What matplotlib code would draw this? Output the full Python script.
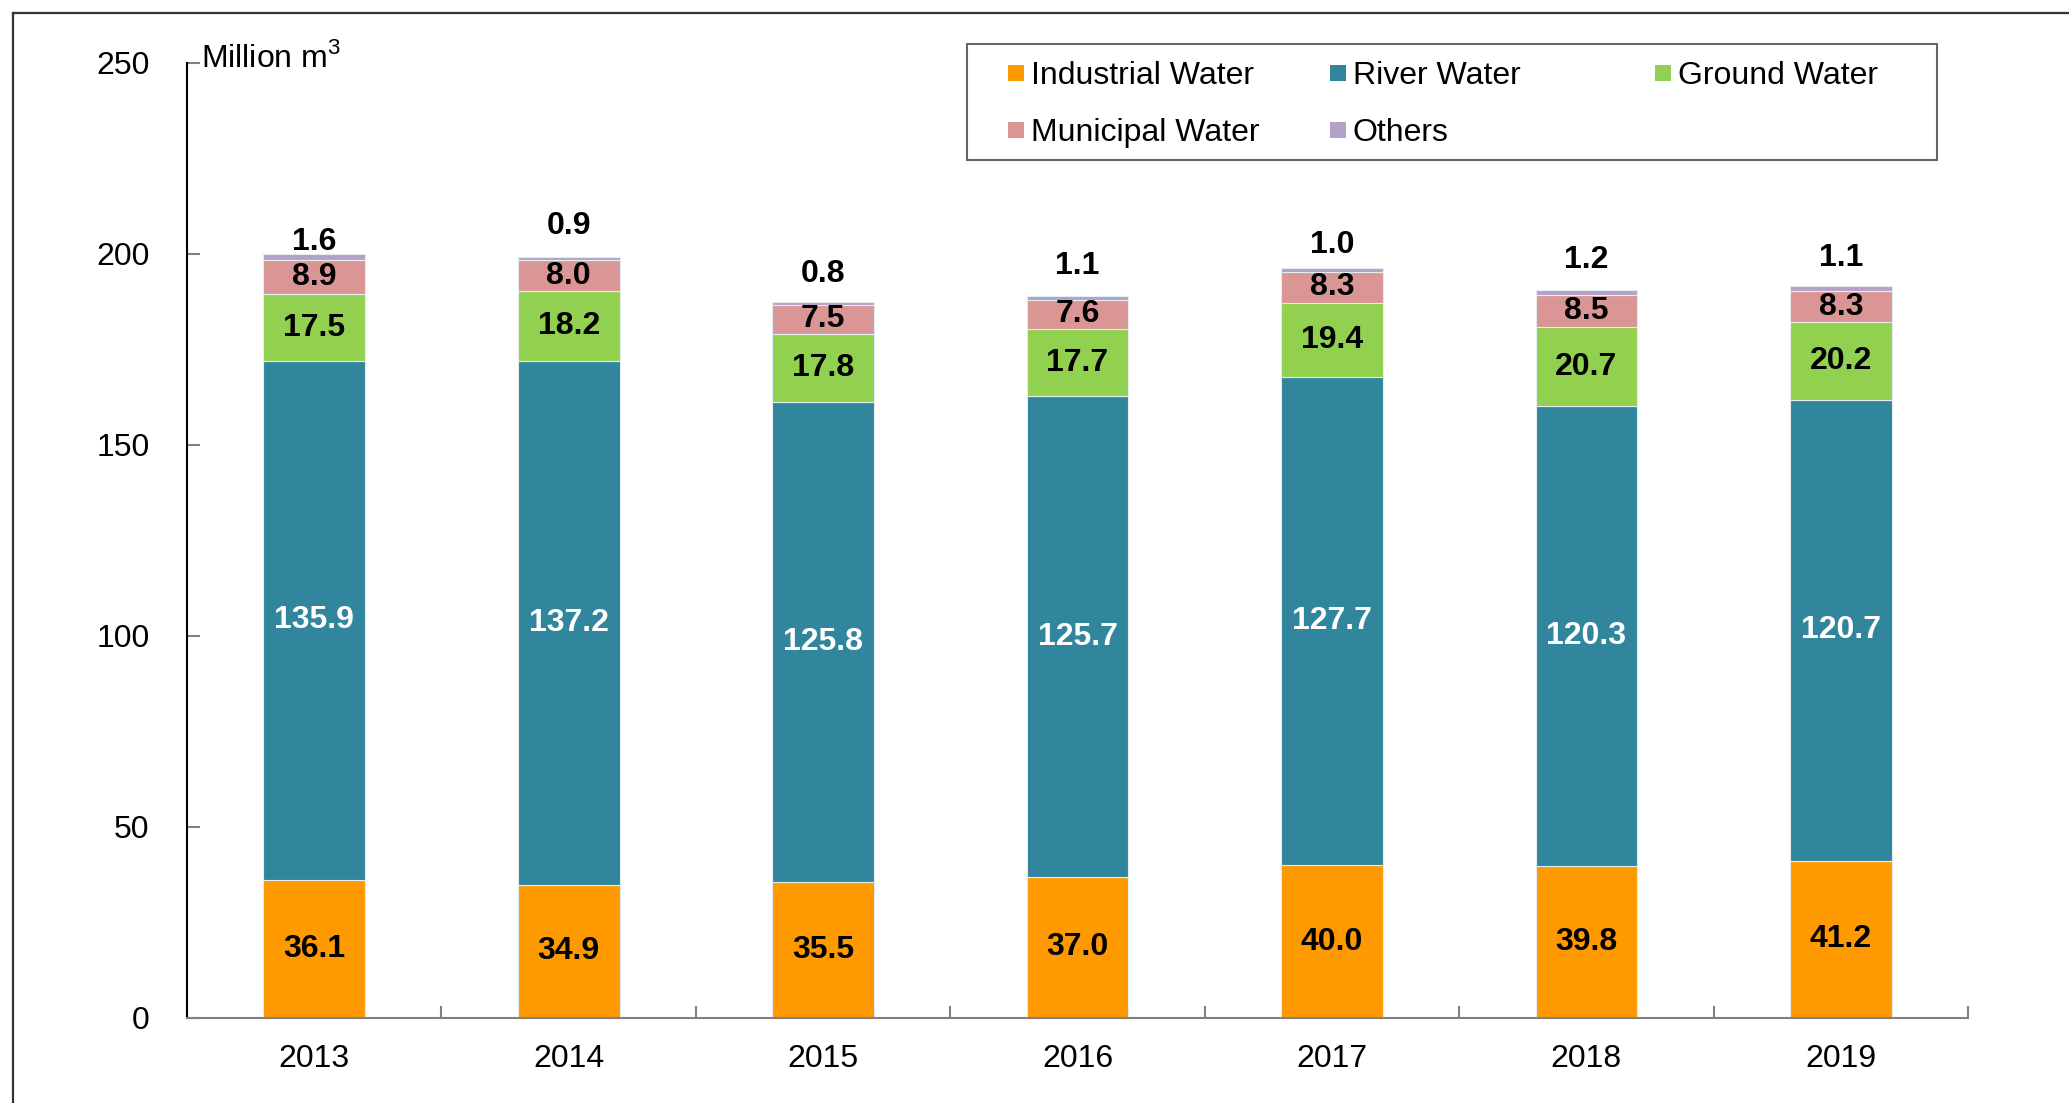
import numpy as np
import matplotlib
matplotlib.use("Agg")
import matplotlib.pyplot as plt
from matplotlib.lines import Line2D
from matplotlib.patches import Rectangle

plt.rcParams['font.family'] = ['Liberation Sans', 'DejaVu Sans']
plt.rcParams['mathtext.fontset'] = 'custom'
plt.rcParams['mathtext.rm'] = 'Liberation Sans'

# data (million m3)
years = ['2013', '2014', '2015', '2016', '2017', '2018', '2019']
industrial = [36.1, 34.9, 35.5, 37.0, 40.0, 39.8, 41.2]
river = [135.9, 137.2, 125.8, 125.7, 127.7, 120.3, 120.7]
ground = [17.5, 18.2, 17.8, 17.7, 19.4, 20.7, 20.2]
municipal = [8.9, 8.0, 7.5, 7.6, 8.3, 8.5, 8.3]
others = [1.6, 0.9, 0.8, 1.1, 1.0, 1.2, 1.1]

series_names = ['Industrial Water', 'River Water', 'Ground Water', 'Municipal Water', 'Others']
series_colors = ['#FF9900', '#31859C', '#92D050', '#DA9694', '#B3A2C7']
label_colors = ['black', 'white', 'black', 'black', None]

# distance (points) from bar top to centre of the "Others" label
others_label_pad = [11.5, 25, 23, 24, 19, 24, 23]

W, H = 2069, 1103
fig = plt.figure(figsize=(W / 100, H / 100), dpi=100)
ax = fig.add_axes([0.0904, 0.0771, 0.8608, 0.8658])

x = np.arange(len(years))
width = 0.4
bottom = np.zeros(len(years))
for vals, name, col, lc in zip([industrial, river, ground, municipal, others],
                               series_names, series_colors, label_colors):
    vals = np.array(vals)
    ax.bar(x, vals, width, bottom=bottom, color=col, edgecolor='#e4edf0',
           linewidth=0.8, label=name, zorder=2)
    if lc is not None:
        for xi, b, v in zip(x, bottom, vals):
            ax.text(xi, b + v / 2, f'{v:.1f}', ha='center', va='center',
                    fontsize=23, fontweight='bold', color=lc, zorder=3)
    bottom = bottom + vals

# others labels above the bars
for xi, top, v, pad in zip(x, bottom, others, others_label_pad):
    ax.annotate(f'{v:.1f}', (xi, top), xytext=(0, pad), textcoords='offset points',
                ha='center', va='center_baseline', fontsize=23, fontweight='bold')

ax.set_xlim(-0.5, len(years) - 0.5)
ax.set_ylim(0, 250)
ax.set_yticks([0, 50, 100, 150, 200, 250])
ax.set_xticks(x)
ax.set_xticklabels(years)
ax.set_xticks(np.arange(-0.5, len(years)), minor=True)

ax.spines['top'].set_visible(False)
ax.spines['right'].set_visible(False)
ax.spines['left'].set_color('black')
ax.spines['left'].set_linewidth(1.5)
ax.spines['bottom'].set_color('#808080')
ax.spines['bottom'].set_linewidth(1.5)

ax.tick_params(axis='y', direction='in', length=9, width=1.5, color='#808080',
               labelsize=23, pad=27)
ax.tick_params(axis='x', which='major', length=0, labelsize=23, pad=19)
ax.tick_params(axis='x', which='minor', direction='in', length=9, width=1.5,
               color='#808080')

ax.annotate('Million m$^3$', (0, 250), xycoords=('axes fraction', 'data'),
            xytext=(10, -3), textcoords='offset points',
            ha='left', va='baseline', fontsize=23)

# legend box drawn by hand: fixed column slots, row-major order
fig.add_artist(Rectangle((967 / W, 1 - 160 / H), 970 / W, 116 / H,
                         transform=fig.transFigure, facecolor='white',
                         edgecolor='#666666', linewidth=1.5))
col_x = [1008, 1330, 1655]
row_y = [73, 130]
msize = 16
for i, (name, col) in enumerate(zip(series_names, series_colors)):
    cx = col_x[i % 3]
    cy = row_y[i // 3]
    fig.add_artist(Rectangle((cx / W, 1 - (cy + msize / 2) / H), msize / W, msize / H,
                             transform=fig.transFigure, facecolor=col,
                             edgecolor='none'))
    fig.text((cx + msize + 7) / W, 1 - (cy + 11) / H, name, fontsize=23,
             ha='left', va='baseline')

# frame around figure (only top and left visible)
fig.add_artist(Line2D([13 / W, 1], [1 - 13 / H, 1 - 13 / H],
                      transform=fig.transFigure, color='#333333', linewidth=1.6))
fig.add_artist(Line2D([13 / W, 13 / W], [0, 1 - 13 / H],
                      transform=fig.transFigure, color='#333333', linewidth=1.6))

fig.savefig('out.png', dpi=100)
